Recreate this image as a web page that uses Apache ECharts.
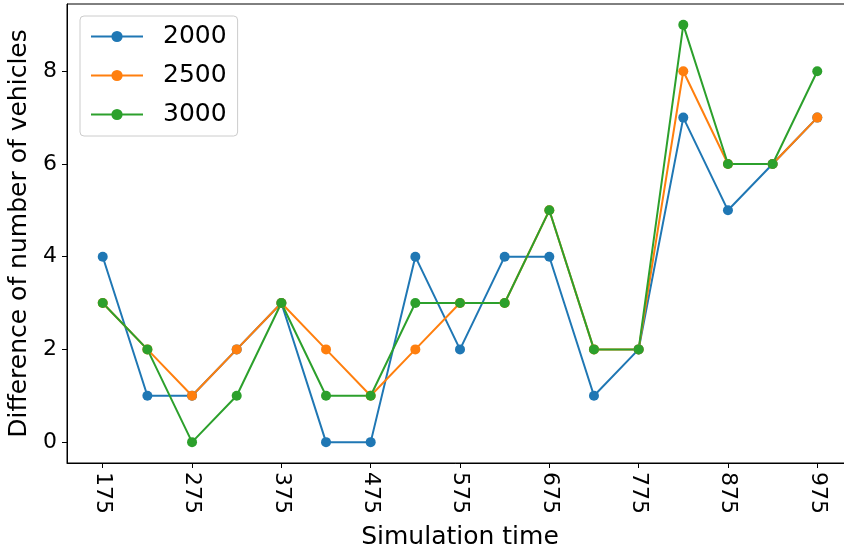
<!DOCTYPE html>
<html>
<head>
<meta charset="utf-8">
<script src="https://cdn.jsdelivr.net/npm/echarts@6/dist/echarts.min.js"></script>
<style>
  html, body { margin: 0; padding: 0; background: #fff; }
  #chart { width: 844px; height: 552px; }
</style>
</head>
<body>
<div id="chart"></div>
<script>
// data
var simTimes = [175, 225, 275, 325, 375, 425, 475, 525, 575, 625, 675, 725, 775, 825, 875, 925, 975];
var diff2000 = [4, 1, 1, 2, 3, 0, 0, 4, 2, 4, 4, 1, 2, 7, 5, 6, 7];
var diff2500 = [3, 2, 1, 2, 3, 2, 1, 2, 3, 3, 5, 2, 2, 8, 6, 6, 7];
var diff3000 = [3, 2, 0, 1, 3, 1, 1, 3, 3, 3, 5, 2, 2, 9, 6, 6, 8];
var xTickLabels = [175, 275, 375, 475, 575, 675, 775, 875, 975];
var yTickLabels = [0, 2, 4, 6, 8];

const fontFam = 'DejaVu Sans';

function pairs(ys) {
  return simTimes.map(function (t, i) { return [t, ys[i]]; });
}

function mkSeries(name, ys, color) {
  return {
    name: name,
    type: 'line',
    data: pairs(ys),
    symbol: 'circle',
    symbolSize: 10,
    itemStyle: { color: color },
    lineStyle: { color: color, width: 2 },
    emphasis: { disabled: true },
    animation: false
  };
}

var dom = document.getElementById('chart');
var myChart = echarts.init(dom, null, { renderer: 'canvas' });

var option = {
  backgroundColor: '#fff',
  textStyle: { fontFamily: fontFam },
  grid: {
    left: 67,
    right: -9,
    top: 4,
    bottom: 89,
    outerBoundsMode: 'none',
    containLabel: false,
    show: true,
    borderColor: '#000',
    borderWidth: 1,
    backgroundColor: 'transparent'
  },
  legend: {
    left: 80,
    top: 16,
    orient: 'vertical',
    itemWidth: 52,
    itemHeight: 14,
    itemGap: 14,
    padding: [8, 11, 9, 10],
    borderColor: '#ccc',
    borderWidth: 1,
    borderRadius: 4,
    textStyle: { fontSize: 25, color: '#000', fontFamily: fontFam, padding: [0, 0, 0, 15] },
    data: ['2000', '2500', '3000']
  },
  xAxis: {
    type: 'value',
    min: 135,
    max: 1015,
    name: 'Simulation time',
    nameLocation: 'middle',
    nameGap: 62,
    nameTextStyle: { fontSize: 25, color: '#000', fontFamily: fontFam },
    axisLine: { show: true, onZero: false, lineStyle: { color: '#000', width: 1 } },
    axisTick: { show: true, length: 5, customValues: xTickLabels, lineStyle: { color: '#000' } },
    axisLabel: {
      customValues: xTickLabels,
      rotate: -90,
      fontSize: 22,
      color: '#000',
      margin: 9,
      fontFamily: fontFam
    },
    splitLine: { show: false }
  },
  yAxis: {
    type: 'value',
    min: -0.45,
    max: 9.45,
    name: 'Difference of number of vehicles',
    nameLocation: 'middle',
    nameGap: 33,
    nameTextStyle: { fontSize: 25, color: '#000', fontFamily: fontFam },
    axisLine: { show: true, onZero: false, lineStyle: { color: '#000', width: 1 } },
    axisTick: { show: true, length: 5, customValues: yTickLabels, lineStyle: { color: '#000' } },
    axisLabel: {
      customValues: yTickLabels,
      fontSize: 22,
      color: '#000',
      margin: 10,
      fontFamily: fontFam
    },
    splitLine: { show: false }
  },
  series: [
    mkSeries('2000', diff2000, '#1f77b4'),
    mkSeries('2500', diff2500, '#ff7f0e'),
    mkSeries('3000', diff3000, '#2ca02c')
  ]
};

if (option && typeof option === 'object') {
  myChart.setOption(option);
}

window.addEventListener('resize', myChart.resize);
</script>
</body>
</html>
